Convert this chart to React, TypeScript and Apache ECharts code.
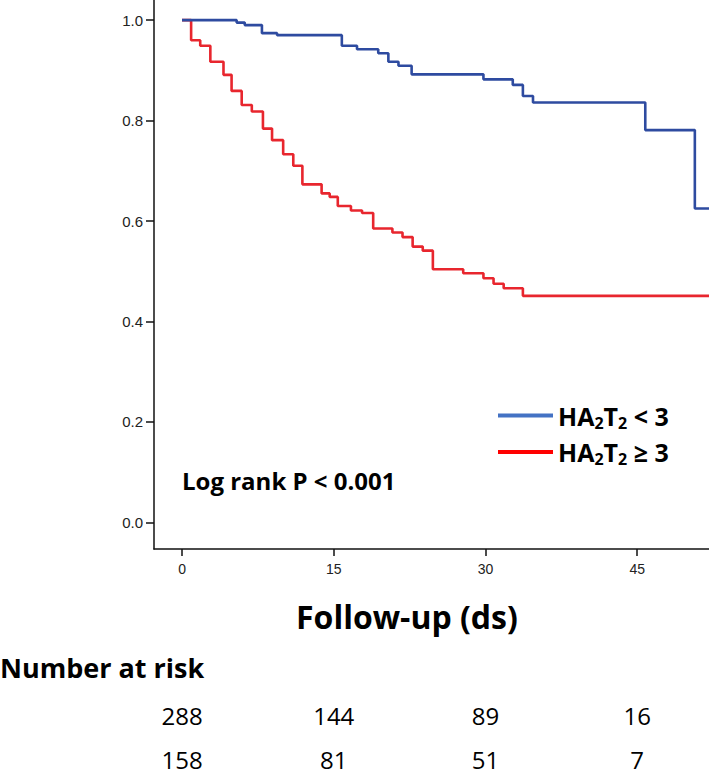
import React, { useEffect, useRef } from "react";
import * as echarts from "echarts";

const blueTimes = [0, 5.4, 6.2, 7.9, 9.4, 15.8, 17.3, 19.4, 20.4, 21.4, 22.7, 29.8, 32.7, 33.7, 34.7, 45.8, 50.7, 52.1];
const blueSurv = [1.0, 0.995, 0.99, 0.974, 0.97, 0.949, 0.942, 0.934, 0.917, 0.909, 0.892, 0.882, 0.871, 0.849, 0.836, 0.781, 0.625, 0.625];

const redTimes = [0, 0.9, 1.8, 2.8, 4.1, 4.9, 5.9, 6.9, 8.0, 8.9, 10.0, 11.0, 11.9, 13.8, 14.6, 15.4, 16.7, 17.8, 18.9, 20.8, 21.8, 22.8, 23.8, 24.8, 27.8, 29.8, 30.8, 31.8, 33.7, 52.1];
const redSurv = [1.0, 0.96, 0.949, 0.917, 0.891, 0.859, 0.831, 0.818, 0.784, 0.761, 0.733, 0.71, 0.673, 0.655, 0.648, 0.63, 0.621, 0.616, 0.585, 0.577, 0.568, 0.549, 0.541, 0.504, 0.496, 0.486, 0.475, 0.466, 0.451, 0.451];

const xTicks = [0, 15, 30, 45];
const yTicks = [0, 0.2, 0.4, 0.6, 0.8, 1.0];
const riskTimes = [0, 15, 30, 45];
const riskLow = [288, 144, 89, 16];
const riskHigh = [158, 81, 51, 7];

const nameLow = "HA2T2 < 3";
const nameHigh = "HA2T2 ≥ 3";

export default function App() {
  const ref = useRef<HTMLDivElement>(null);
  useEffect(() => {
    if (!ref.current) return;
    const chart = echarts.init(ref.current, null, { renderer: "svg" });
    const X_MIN = -2.77;
    const X_MAX = 52.1;
    const riskAxis = (values: number[], offset: number) => ({
      type: "value",
      gridIndex: 0,
      position: "bottom",
      offset,
      min: X_MIN,
      max: X_MAX,
      axisLine: { show: false, onZero: false },
      axisTick: { show: false },
      splitLine: { show: false },
      axisLabel: {
        customValues: riskTimes,
        margin: 4,
        fontFamily: "Open Sans",
        fontSize: 24,
        color: "#000",
        formatter: (v: number) => {
          const i = riskTimes.indexOf(v);
          return i >= 0 ? String(values[i]) : "";
        },
      },
    });
    const rich = {
      b: { fontFamily: "Open Sans", fontWeight: "bold", fontSize: 25, lineHeight: 30, color: "#000" },
      s: { fontFamily: "Open Sans", fontWeight: "bold", fontSize: 16, lineHeight: 12, verticalAlign: "bottom", color: "#000" },
    };
    chart.setOption({
      animation: false,
      backgroundColor: "#fff",
      grid: { left: 154, right: 0, top: 0, bottom: 226, containLabel: false, outerBoundsMode: "none" },
      legend: {
        orient: "vertical",
        left: 493,
        top: 398,
        itemWidth: 55,
        itemHeight: 4,
        itemGap: 9,
        icon: "rect",
        data: [nameLow, nameHigh],
        formatter: (n: string) =>
          n === nameLow ? "{b|HA}{s|2}{b|T}{s|2}{b| < 3}" : "{b|HA}{s|2}{b|T}{s|2}{b| ≥ 3}",
        textStyle: { rich },
      },
      xAxis: [
        {
          type: "value",
          min: X_MIN,
          max: X_MAX,
          axisLine: { show: true, onZero: false, lineStyle: { color: "#111", width: 1.5 } },
          axisTick: { show: true, customValues: xTicks, length: 7, lineStyle: { color: "#111", width: 1.5 } },
          splitLine: { show: false },
          axisLabel: {
            customValues: xTicks,
            margin: 13,
            fontFamily: "Liberation Sans",
            fontSize: 14,
            color: "#222",
          },
        },
        riskAxis(riskLow, 150),
        riskAxis(riskHigh, 194),
      ],
      yAxis: {
        type: "value",
        min: -0.053,
        max: 1.04,
        axisLine: { show: true, onZero: false, lineStyle: { color: "#111", width: 1.5 } },
        axisTick: { show: true, customValues: yTicks, length: 8, lineStyle: { color: "#111", width: 1.5 } },
        splitLine: { show: false },
        axisLabel: {
          customValues: yTicks,
          margin: 11,
          fontFamily: "Liberation Sans",
          fontSize: 15,
          color: "#222",
          formatter: (v: number) => v.toFixed(1),
        },
      },
      graphic: [
        {
          type: "text",
          left: 182,
          top: 468,
          style: { text: "Log rank P < 0.001", fontFamily: "Open Sans", fontWeight: "bold", fontSize: 24, fill: "#000" },
        },
        {
          type: "text",
          left: 296,
          top: 600,
          style: { text: "Follow-up (ds)", fontFamily: "Open Sans", fontWeight: "bold", fontSize: 32, fill: "#000" },
        },
        {
          type: "text",
          left: 0,
          top: 654,
          style: { text: "Number at risk", fontFamily: "Open Sans", fontWeight: "bold", fontSize: 27, fill: "#000" },
        },
      ],
      series: [
        {
          name: nameHigh,
          type: "line",
          step: "end",
          showSymbol: false,
          itemStyle: { color: "#FF0000" },
          lineStyle: { color: "#E8262E", width: 2.6 },
          data: redTimes.map((t, i) => [t, redSurv[i]]),
        },
        {
          name: nameLow,
          type: "line",
          step: "end",
          showSymbol: false,
          itemStyle: { color: "#4472C4" },
          lineStyle: { color: "#2E4BA0", width: 2.6 },
          data: blueTimes.map((t, i) => [t, blueSurv[i]]),
        },
      ],
    });
    return () => chart.dispose();
  }, []);
  return (
    <div
      ref={ref}
      style={{ position: "absolute", left: 0, top: 0, width: 709, height: 775 }}
    />
  );
}
